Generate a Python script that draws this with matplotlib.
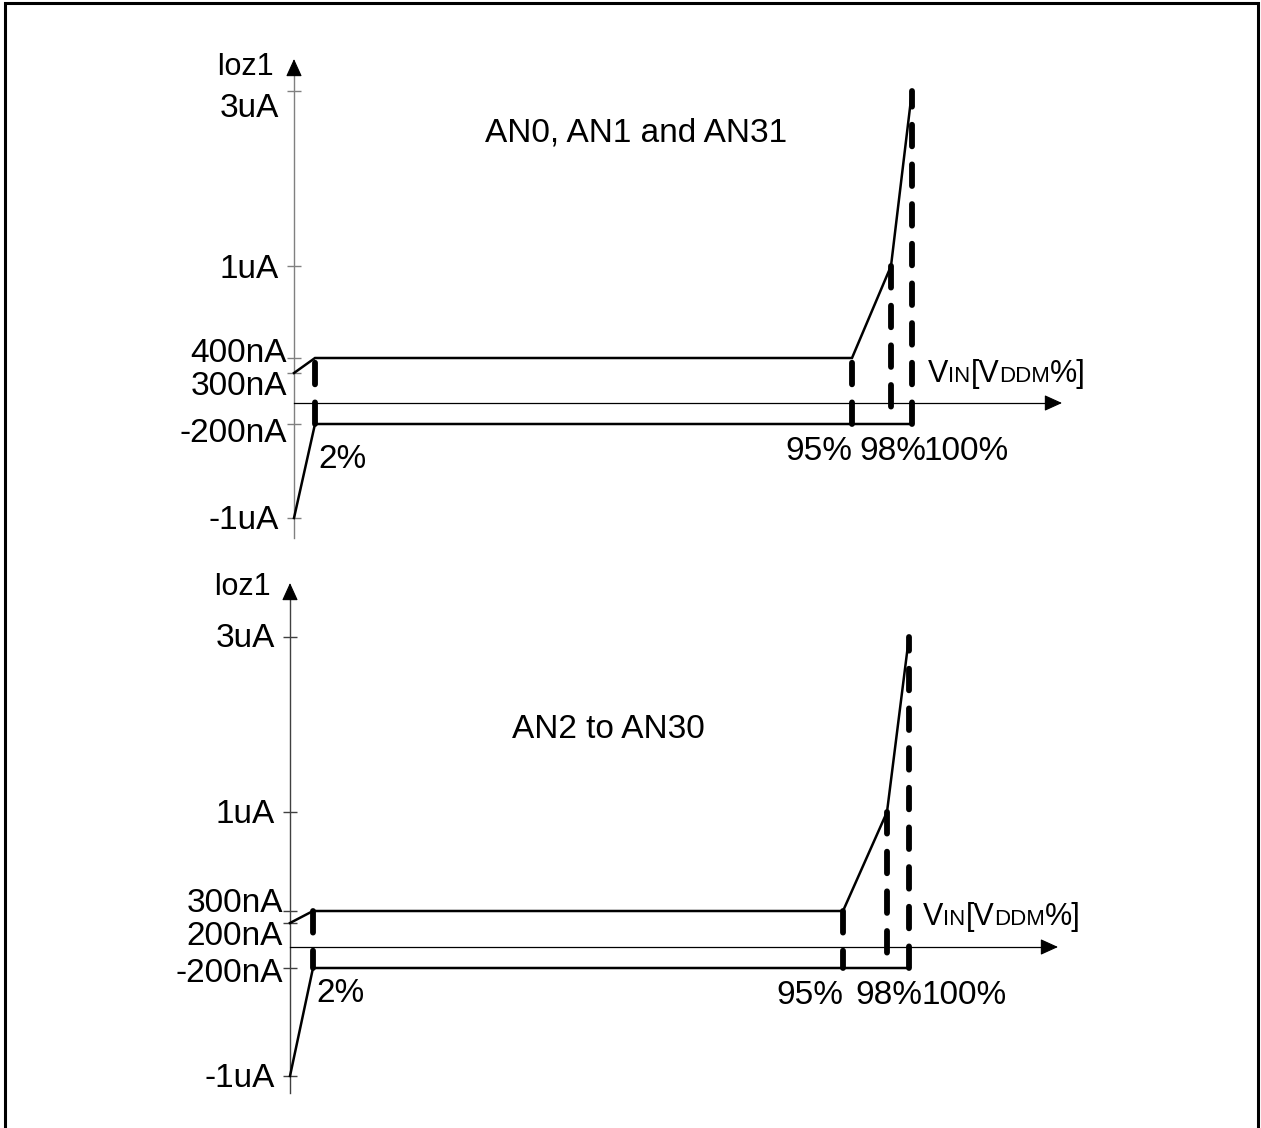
import numpy as np
import matplotlib
matplotlib.use('Agg')
import matplotlib.pyplot as plt
from matplotlib.patches import Rectangle

plt.rcParams['font.family'] = ['Liberation Sans', 'DejaVu Sans']

W, H = 1261, 1128

# ---------------- data ----------------
x_pct = [0, 2, 95, 98, 100]
x_labels = ['2%', '95%', '98%', '100%']
y_name = 'Ioz1'
x_name_parts = ['V', 'IN', '[V', 'DDM', '%]']

top_title = 'AN0, AN1 and AN31'
top_upper_nA = [300, 400, 400, 1000, 3000]
top_lower_nA = [-1000, -200, -200, -200, -200]
top_ytick_nA = [3000, 1000, 400, 300, -200, -1000]
top_ytick_labels = ['3uA', '1uA', '400nA', '300nA', '-200nA', '-1uA']

bot_title = 'AN2 to AN30'
bot_upper_nA = [200, 300, 300, 1000, 3000]
bot_lower_nA = [-1000, -200, -200, -200, -200]
bot_ytick_nA = [3000, 1000, 300, 200, -200, -1000]
bot_ytick_labels = ['3uA', '1uA', '300nA', '200nA', '-200nA', '-1uA']

# ---------------- layout (schematic, non-linear axes) ----------------
panels = [
    dict(title=top_title, upper=top_upper_nA, lower=top_lower_nA,
         yt=top_ytick_nA, ytl=top_ytick_labels,
         xpix=[294, 315, 852, 891, 912],
         ypix={-1000: 518, -200: 424, 0: 403, 300: 373, 400: 358, 1000: 266, 3000: 91},
         yaxis_rows=(538, 59), xaxis_end=1062,
         ylab_dy=[26, 12, 4, 22, 18, 11],
         xlab_dy=[44, 36, 36, 36],
         title_xy=(636, 142), name_xy=(274, 75), vin_xy=(928, 382),
         axis_color='#808080', dash_from_top=[False, False, True, False]),
    dict(title=bot_title, upper=bot_upper_nA, lower=bot_lower_nA,
         yt=bot_ytick_nA, ytl=bot_ytick_labels,
         xpix=[290, 313, 843, 887, 909],
         ypix={-1000: 1076, -200: 968, 0: 947, 200: 923, 300: 911, 1000: 812, 3000: 637},
         yaxis_rows=(1093, 583), xaxis_end=1058,
         ylab_dy=[10, 11, 1, 22, 14, 11],
         xlab_dy=[34, 36, 36, 36],
         title_xy=(608, 738), name_xy=(271, 595), vin_xy=(923, 925),
         axis_color='#404040', dash_from_top=[True, True, True, False]),
]
xlab_dx = [3, 0, 2, 12]
xlab_ha = ['left', 'right', 'center', 'left']


def piecewise(vals, pix):
    vals = np.asarray(vals, float)
    pix = np.asarray(pix, float)

    def make(a, b):
        s0 = (b[1] - b[0]) / (a[1] - a[0])
        s1 = (b[-1] - b[-2]) / (a[-1] - a[-2])

        def f(v):
            v = np.asarray(v, float)
            out = np.interp(v, a, b)
            out = np.where(v < a[0], b[0] + (v - a[0]) * s0, out)
            out = np.where(v > a[-1], b[-1] + (v - a[-1]) * s1, out)
            return out
        return f
    return make(vals, pix), make(pix, vals)


fig = plt.figure(figsize=(W / 100, H / 100), dpi=100)
fig.patch.set_facecolor('white')

# outer frame
fig.add_artist(Rectangle((5 / W, -10 / H), 1252.5 / W, (H + 10 - 3) / H,
                         transform=fig.transFigure, fill=False, lw=2.2, ec='black'))

FS = 24
for p in panels:
    fx, ix = piecewise(x_pct, p['xpix'])
    yv = sorted(p['ypix'].keys())
    fy, iy = piecewise(yv, [H - p['ypix'][v] for v in yv])
    ax = fig.add_axes([0, 0, 1, 1])
    ax.set_xscale('function', functions=(fx, ix))
    ax.set_yscale('function', functions=(fy, iy))
    ax.set_xlim(float(ix(0)), float(ix(W)))
    ax.set_ylim(float(iy(0)), float(iy(H)))
    ax.axis('off')
    ax.patch.set_alpha(0)

    ybot = float(iy(H - p['yaxis_rows'][0]))
    ytip = float(iy(H - p['yaxis_rows'][1]))
    yhead = float(iy(H - p['yaxis_rows'][1] - 15))
    xend = float(ix(p['xaxis_end']))
    xhead = float(ix(p['xaxis_end'] - 15))

    # y axis
    ax.plot([0, 0], [ybot, yhead], color=p['axis_color'], lw=1.0)
    ax.annotate('', xy=(0, ytip), xytext=(0, yhead),
                arrowprops=dict(arrowstyle='-|>,head_length=1.1,head_width=0.5',
                                color='black', lw=0.8, shrinkA=0, shrinkB=0,
                                mutation_scale=10))
    # x axis
    ax.plot([0, xhead], [0, 0], color='black', lw=0.9)
    ax.annotate('', xy=(xend, 0), xytext=(xhead, 0),
                arrowprops=dict(arrowstyle='-|>,head_length=1.1,head_width=0.5',
                                color='black', lw=0.8, shrinkA=0, shrinkB=0,
                                mutation_scale=10))
    # ticks
    ax.plot(np.zeros(len(p['yt'])), p['yt'], ls='none', marker='_', ms=10.5,
            mew=1.0, color=p['axis_color'])
    for v, lab, dy in zip(p['yt'], p['ytl'], p['ylab_dy']):
        dx = -15 if lab.endswith('uA') else -7
        ax.annotate(lab, xy=(0, v), xytext=(dx, -dy), textcoords='offset pixels',
                    ha='right', va='baseline', fontsize=FS)

    # curves
    ax.plot(x_pct, p['upper'], color='black', lw=1.8, solid_joinstyle='miter')
    ax.plot(x_pct, p['lower'], color='black', lw=1.8, solid_joinstyle='miter')

    # dashed verticals
    for i in range(1, len(x_pct)):
        ys = [p['upper'][i], p['lower'][i]]
        if not p['dash_from_top'][i - 1]:
            ys = ys[::-1]
        ax.plot([x_pct[i], x_pct[i]], ys, color='black', lw=4.2,
                ls=(0, (3.7, 3.1)), dash_capstyle='round')

    # x labels
    for i, lab in enumerate(x_labels):
        ax.annotate(lab, xy=(x_pct[i + 1], p['lower'][i + 1]),
                    xytext=(xlab_dx[i], -p['xlab_dy'][i]), textcoords='offset pixels',
                    ha=xlab_ha[i], va='baseline', fontsize=24)

    # titles and axis names
    tx, ty = p['title_xy']
    fig.text(tx / W, 1 - ty / H, p['title'], ha='center', va='baseline', fontsize=FS)
    nx, ny = p['name_xy']
    fig.text(nx / W, 1 - ny / H, y_name, ha='right', va='baseline', fontsize=22)

    # V_IN[V_DDM%] label built from pieces
    renderer = fig.canvas.get_renderer()
    vx, vy = p['vin_xy']
    for k, part in enumerate(x_name_parts):
        size = 22 if k % 2 == 0 else 16
        t = fig.text(vx / W, 1 - vy / H, part, ha='left', va='baseline', fontsize=size)
        vx += t.get_window_extent(renderer).width

fig.savefig('out.png', dpi=100, facecolor='white')
